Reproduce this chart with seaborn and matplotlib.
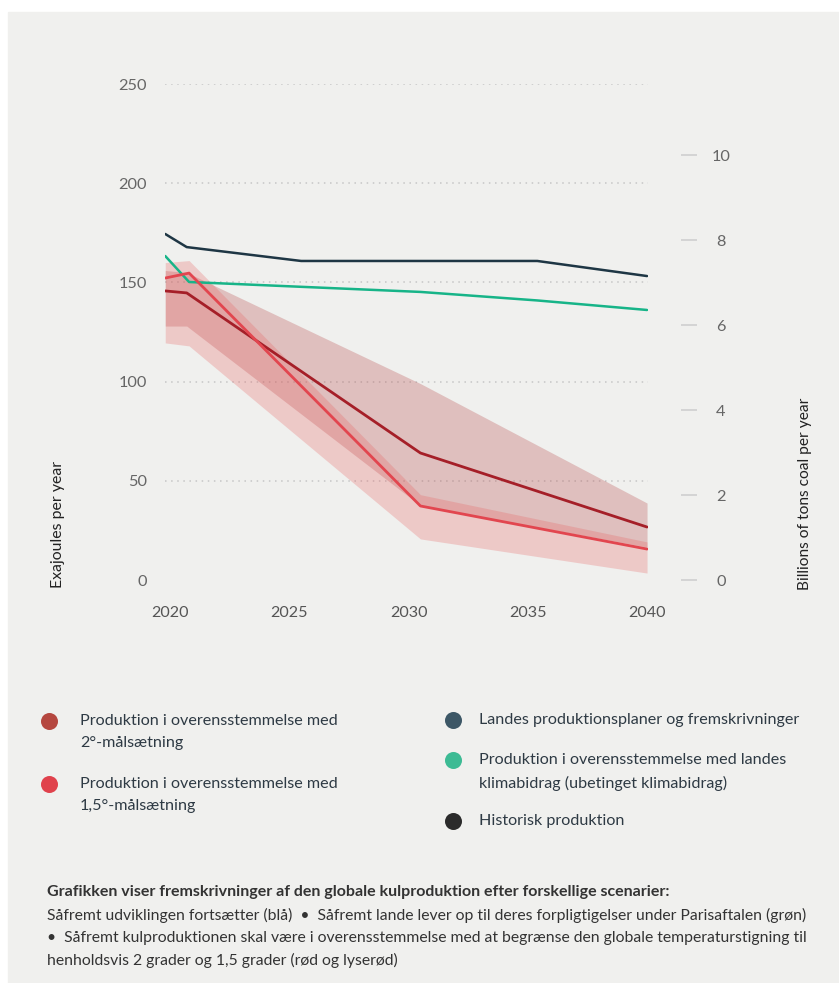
import matplotlib
matplotlib.use("Agg")
import matplotlib.pyplot as plt
import matplotlib.patches as mpatches
import seaborn as sns

# --- data ---
yr_plan = [2019.8, 2020.7, 2025.5, 2035.4, 2040.0]
val_plan = [174.4, 167.8, 160.8, 160.8, 153.2]          # Landes produktionsplaner

yr_ndc = [2019.8, 2020.8, 2030.5, 2035.4, 2040.0]
val_ndc = [163.3, 150.2, 145.2, 140.9, 136.1]           # klimabidrag

yr_2c = [2019.8, 2020.7, 2030.5, 2040.0]
val_2c = [145.7, 144.7, 64.0, 26.7]
hi_2c = [156.0, 155.0, 99.0, 38.8]
lo_2c = [128.0, 128.0, 37.5, 16.6]

yr_15c = [2019.8, 2020.8, 2030.5, 2040.0]
val_15c = [152.2, 154.7, 37.3, 15.6]
hi_15c = [160.0, 161.0, 43.0, 19.2]
lo_15c = [119.5, 118.0, 20.7, 3.5]

x_ticks = [2020, 2025, 2030, 2035, 2040]
left_ticks = [0, 50, 100, 150, 200, 250]
right_ticks = [0, 2, 4, 6, 8, 10]
ej_per_gt = 21.4   # right axis scale factor

legend_left = ["Produktion i overensstemmelse med\n2°-målsætning",
               "Produktion i overensstemmelse med\n1,5°-målsætning"]
legend_right = ["Landes produktionsplaner og fremskrivninger",
                "Produktion i overensstemmelse med landes\nklimabidrag (ubetinget klimabidrag)",
                "Historisk produktion"]
col_left = ["#b5473f", "#e0424c"]
col_right = ["#3d5766", "#3dbb94", "#2b2b2b"]

BG = "#f0f0ee"
sns.set_theme(style="white")
plt.rcParams["font.family"] = ["Lato", "DejaVu Sans"]

fig = plt.figure(figsize=(8.39, 9.83), dpi=100)
fig.patch.set_facecolor("white")
fig.add_artist(mpatches.Rectangle((8 / 839, 0), 1, (983 - 12) / 983,
                                  transform=fig.transFigure, color=BG, zorder=-10))

ax = fig.add_axes([165 / 839, 403 / 983, 483 / 839, 496 / 983])
ax.set_facecolor("none")
for s in ax.spines.values():
    s.set_visible(False)

ax.set_xlim(2019.79, 2040.04)
ax.set_ylim(0, 250)

for v in left_ticks[1:]:
    ax.axhline(v, color="#c6c6c6", lw=1.1, ls=(0, (1, 3)), zorder=0)

ax.fill_between(yr_2c, lo_2c, hi_2c, color="#b85050", alpha=0.30, lw=0, zorder=1)
ax.fill_between(yr_15c, lo_15c, hi_15c, color="#e86060", alpha=0.27, lw=0, zorder=1)

sns.lineplot(x=yr_plan, y=val_plan, ax=ax, color="#1e3644", lw=1.8, zorder=3)
sns.lineplot(x=yr_ndc, y=val_ndc, ax=ax, color="#17b488", lw=1.8, zorder=3)
sns.lineplot(x=yr_2c, y=val_2c, ax=ax, color="#a51f28", lw=2.0, zorder=4)
sns.lineplot(x=yr_15c, y=val_15c, ax=ax, color="#e2464f", lw=2.0, zorder=4)

ax.set_xticks(x_ticks)
ax.set_xticklabels([str(t) for t in x_ticks])
ax.set_yticks(left_ticks)
ax.set_yticklabels([str(t) for t in left_ticks])
ax.tick_params(axis="x", length=0, pad=19, labelsize=11.6, labelcolor="#555555")
ax.tick_params(axis="y", length=0, pad=13, labelsize=11.8, labelcolor="#666666")
ax.set_xlabel("")
ax.set_ylabel("")

# right axis in billions of tons
ax2 = ax.twinx()
for s in ax2.spines.values():
    s.set_visible(False)
ax2.spines["right"].set_position(("outward", 24))
ax2.set_ylim(0, 250 / ej_per_gt)
ax2.set_yticks(right_ticks, [str(t) for t in right_ticks], ha="center")
ax2.tick_params(axis="y", length=11.5, width=1.4, color="#d4d4d4", pad=17,
                labelsize=11.8, labelcolor="#666666")

fig.text(58 / 839, 1 - 588 / 983, "Exajoules per year", rotation=90,
         ha="center", va="bottom", fontsize=11.4, color="#222222")
fig.text(805 / 839, 1 - 590 / 983, "Billions of tons coal per year", rotation=90,
         ha="center", va="bottom", fontsize=11.2, color="#222222")

# legend drawn in pixel space
lg = fig.add_axes([0, 0, 1, 1])
lg.set_xlim(0, 839)
lg.set_ylim(983, 0)
lg.axis("off")
lg.patch.set_alpha(0)

for lab, c, y in zip(legend_left, col_left, [721, 784]):
    lg.scatter([49], [y], s=150, color=c, lw=0)
    lg.text(80, y - 7, lab, va="top", ha="left", fontsize=11.6, color="#2e3a44",
            linespacing=1.7)
for lab, c, y in zip(legend_right, col_right, [720, 760, 821]):
    lg.scatter([453], [y], s=150, color=c, lw=0)
    lg.text(479, y - 7, lab, va="top", ha="left", fontsize=11.6, color="#2e3a44",
            linespacing=1.7)

lg.text(47, 892, "Grafikken viser fremskrivninger af den globale kulproduktion efter forskellige scenarier:",
        fontsize=11.5, fontweight="bold", color="#333333", va="center", ha="left")
caption = ["Såfremt udviklingen fortsætter (blå)  •  Såfremt lande lever op til deres forpligtigelser under Parisaftalen (grøn)",
           "•  Såfremt kulproduktionen skal være i overensstemmelse med at begrænse den globale temperaturstigning til",
           "henholdsvis 2 grader og 1,5 grader (rød og lyserød)"]
for line, y in zip(caption, [915, 938, 960]):
    lg.text(47, y, line, fontsize=11.3, color="#333333", va="center", ha="left")

fig.savefig("out.png", dpi=100, facecolor=fig.get_facecolor())
